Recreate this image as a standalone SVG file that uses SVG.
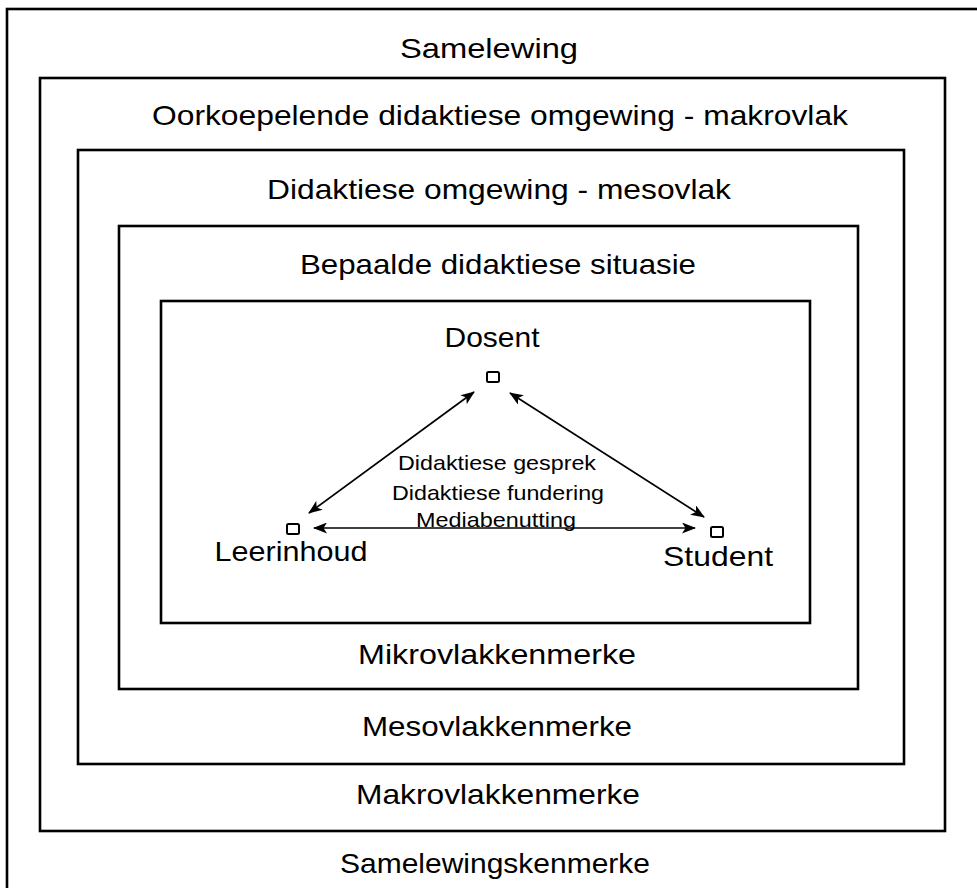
<svg xmlns="http://www.w3.org/2000/svg" width="977" height="888" viewBox="0 0 977 888">
  <style>
    .frame { fill: none; stroke: #000; stroke-width: 2.6; }
    .lbl { font-family: "Liberation Sans", Arial, sans-serif; font-size: 28.5px; fill: #000; text-anchor: middle; }
    .sm { font-family: "Liberation Sans", Arial, sans-serif; font-size: 21px; fill: #000; text-anchor: middle; }
    .pt { fill: #fff; stroke: #000; stroke-width: 2; }
    .arrow { fill: none; stroke: #000; stroke-width: 1.7; marker-start: url(#head); marker-end: url(#head); }
  </style>
  <defs>
    <marker id="head" viewBox="0 0 14 11" refX="13" refY="5.5" markerWidth="14" markerHeight="11" markerUnits="userSpaceOnUse" orient="auto-start-reverse">
      <path d="M0,0 L14,5.5 L0,11 L3.5,5.5 z" fill="#000"/>
    </marker>
  </defs>
  <rect width="977" height="888" fill="#fff"/>

  <!-- nested contexts, outermost first -->
  <g id="samelewing">
    <rect class="frame" x="7" y="9" width="990" height="900"/>
    <text class="lbl" x="489" y="58" textLength="178" lengthAdjust="spacingAndGlyphs">Samelewing</text>
    <text class="lbl" x="495" y="873" textLength="310" lengthAdjust="spacingAndGlyphs">Samelewingskenmerke</text>
  </g>
  <g id="makrovlak">
    <rect class="frame" x="40" y="78" width="905" height="753"/>
    <text class="lbl" x="500" y="125" textLength="696" lengthAdjust="spacingAndGlyphs">Oorkoepelende didaktiese omgewing - makrovlak</text>
    <text class="lbl" x="498" y="804" textLength="284" lengthAdjust="spacingAndGlyphs">Makrovlakkenmerke</text>
  </g>
  <g id="mesovlak">
    <rect class="frame" x="78" y="150" width="826" height="614"/>
    <text class="lbl" x="499" y="199" textLength="464" lengthAdjust="spacingAndGlyphs">Didaktiese omgewing - mesovlak</text>
    <text class="lbl" x="497" y="736" textLength="270" lengthAdjust="spacingAndGlyphs">Mesovlakkenmerke</text>
  </g>
  <g id="situasie">
    <rect class="frame" x="119" y="226" width="739" height="463"/>
    <text class="lbl" x="498" y="274" textLength="396" lengthAdjust="spacingAndGlyphs">Bepaalde didaktiese situasie</text>
    <text class="lbl" x="497" y="664" textLength="278" lengthAdjust="spacingAndGlyphs">Mikrovlakkenmerke</text>
  </g>
  <g id="mikrovlak">
    <rect class="frame" x="161" y="301" width="649" height="322"/>
  </g>

  <!-- the didactic triangle -->
  <g id="dosent">
    <text class="lbl" x="492" y="347" textLength="95" lengthAdjust="spacingAndGlyphs">Dosent</text>
    <rect class="pt" x="487" y="372" width="12" height="10" rx="1.5"/>
  </g>
  <g id="leerinhoud">
    <rect class="pt" x="287" y="524" width="12" height="10" rx="1.5"/>
    <text class="lbl" x="291" y="561" textLength="153" lengthAdjust="spacingAndGlyphs">Leerinhoud</text>
  </g>
  <g id="student">
    <rect class="pt" x="711" y="527" width="12" height="10" rx="1.5"/>
    <text class="lbl" x="718" y="566" textLength="110" lengthAdjust="spacingAndGlyphs">Student</text>
  </g>
  <g id="interaksie">
    <text class="sm" x="497" y="470" textLength="198" lengthAdjust="spacingAndGlyphs">Didaktiese gesprek</text>
    <text class="sm" x="498" y="500" textLength="212" lengthAdjust="spacingAndGlyphs">Didaktiese fundering</text>
    <text class="sm" x="496" y="527" textLength="160" lengthAdjust="spacingAndGlyphs">Mediabenutting</text>
  </g>

  <g id="connectors">
    <line class="arrow" x1="309" y1="513" x2="474" y2="392"/>
    <line class="arrow" x1="510" y1="393" x2="704" y2="517"/>
    <line class="arrow" x1="314" y1="528" x2="695" y2="528"/>
  </g>
</svg>
